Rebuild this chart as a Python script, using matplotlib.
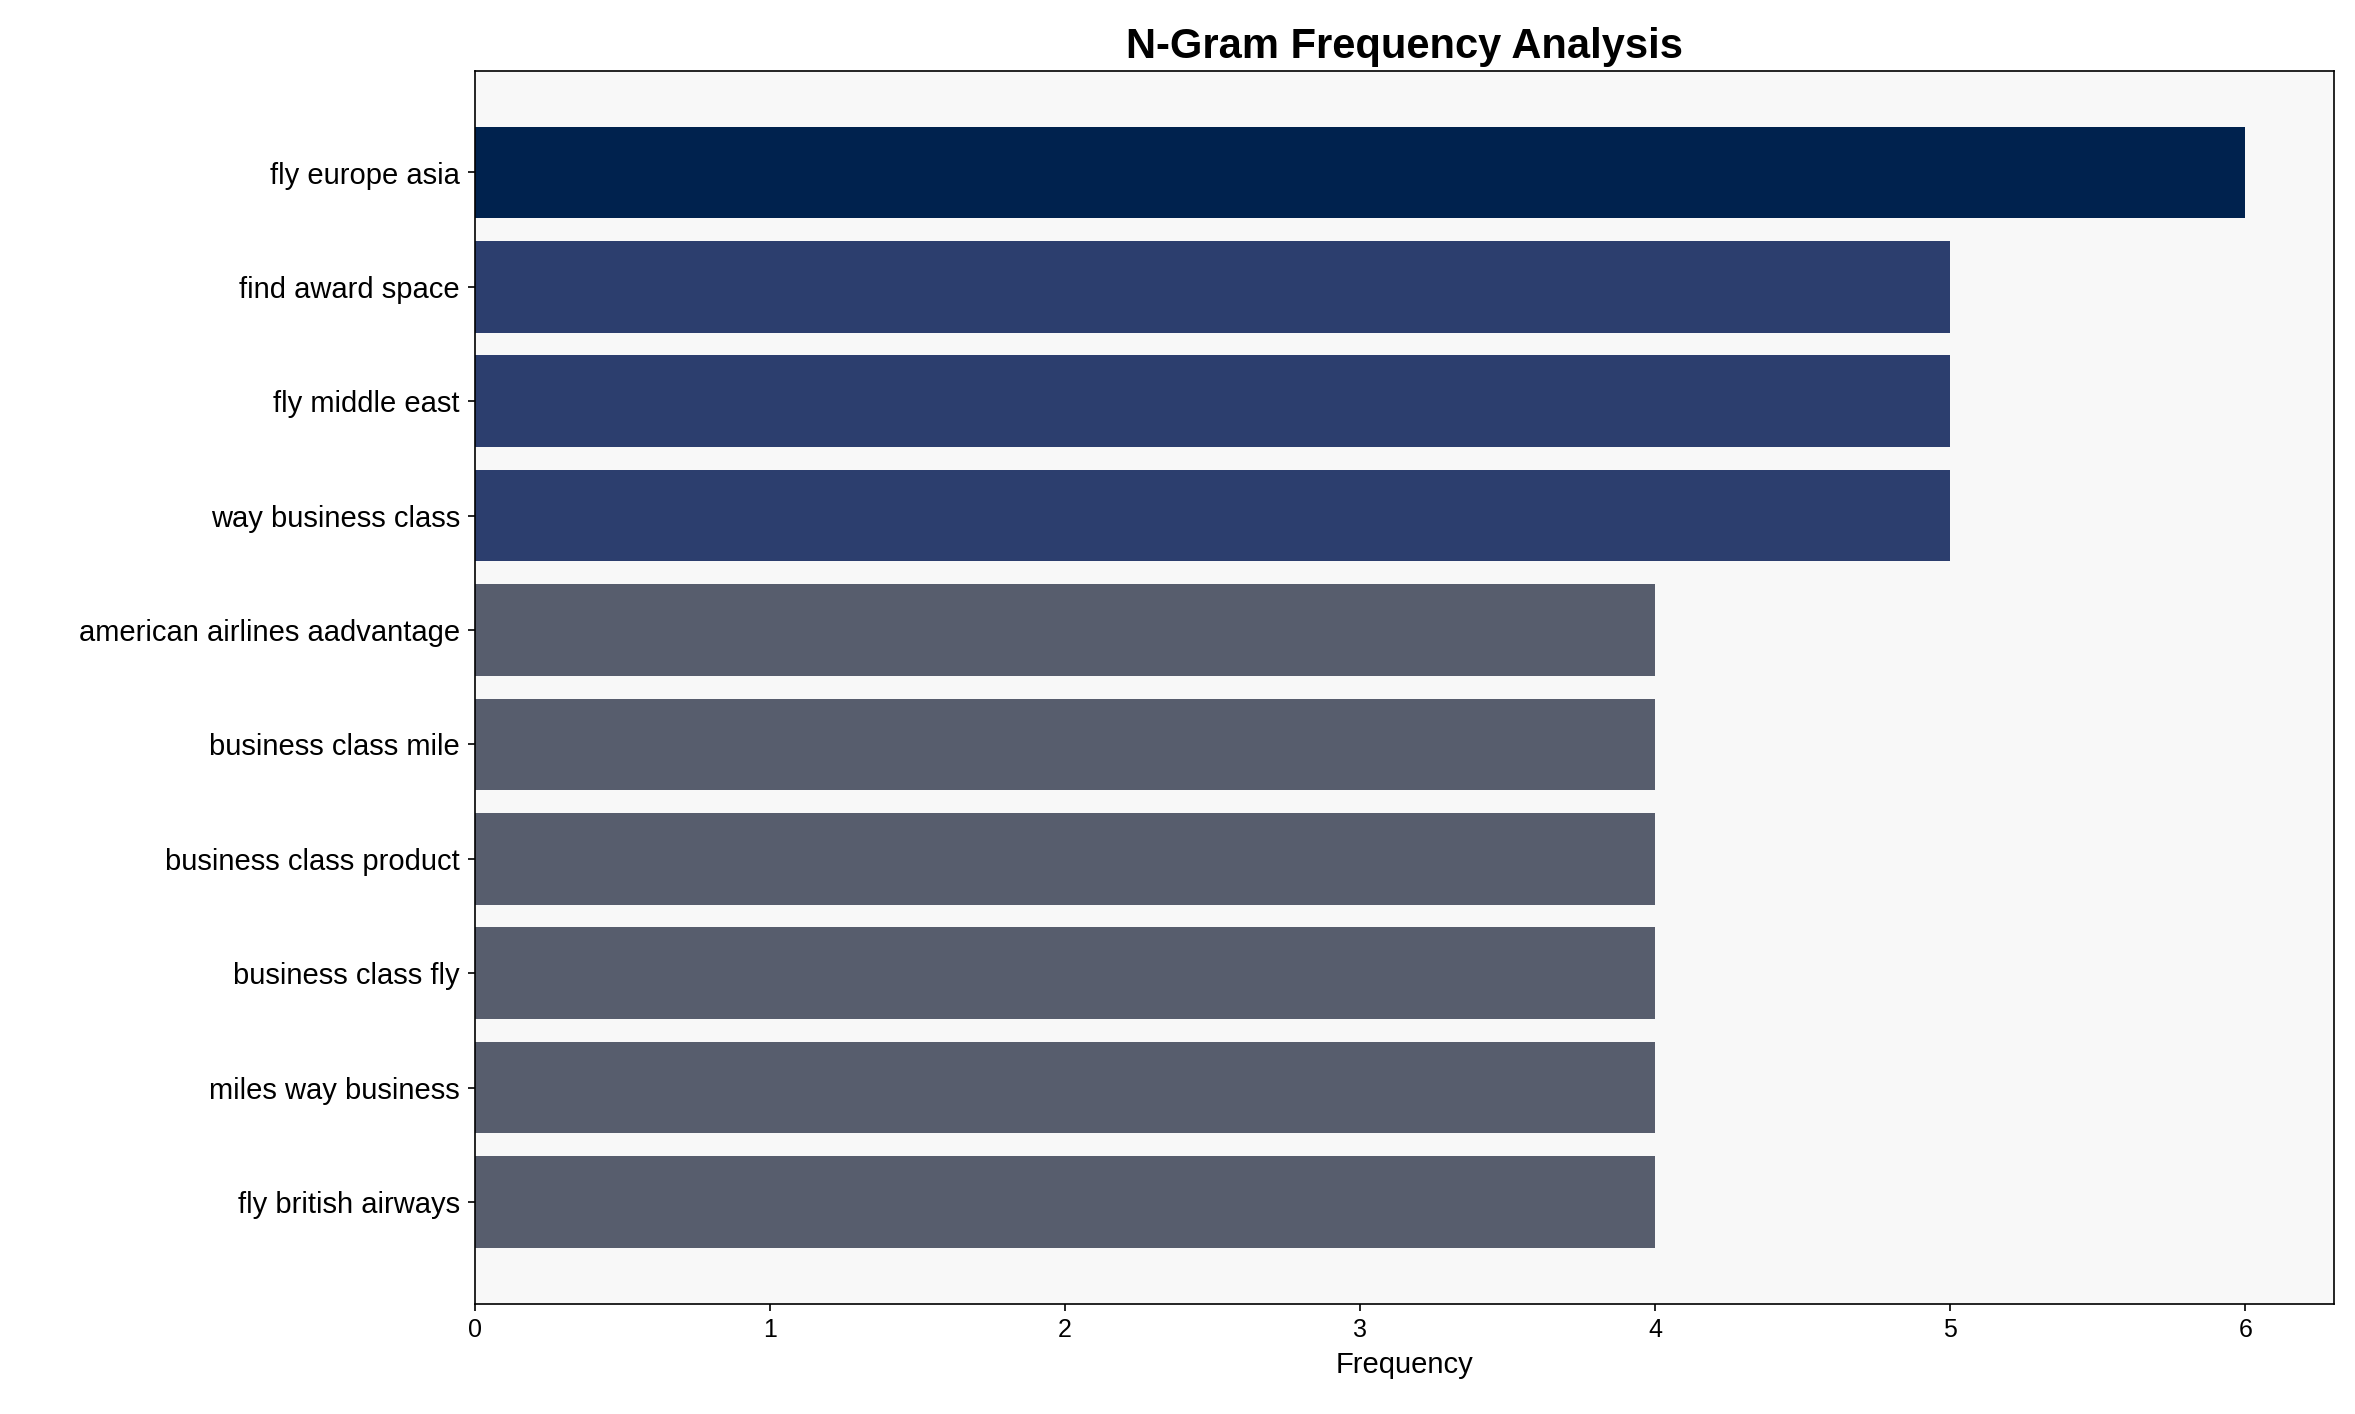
import matplotlib
matplotlib.use("Agg")
import matplotlib.pyplot as plt

plt.rcParams['font.family'] = ['Liberation Sans', 'DejaVu Sans']

ngrams = ["fly europe asia", "find award space", "fly middle east", "way business class",
          "american airlines aadvantage", "business class mile", "business class product",
          "business class fly", "miles way business", "fly british airways"]
freqs = [6, 5, 5, 5, 4, 4, 4, 4, 4, 4]
color_map = {6: "#00224e", 5: "#2c3e6e", 4: "#575d6d"}

fig = plt.figure(figsize=(15.7, 9.427), dpi=150)
ax = fig.add_axes([0.2015, 0.078, 0.7895, 0.872])
ax.set_facecolor("#f8f8f8")
y = list(range(len(ngrams)))
ax.barh(y, freqs, color=[color_map[f] for f in freqs], height=0.8)
ax.set_yticks(y)
ax.set_yticklabels(ngrams, fontsize=14)
ax.invert_yaxis()
ax.set_xlim(0, 6.3)
ax.tick_params(axis='x', labelsize=12)
ax.set_xlabel("Frequency", fontsize=14)
ax.set_title("N-Gram Frequency Analysis", fontsize=20, fontweight='bold')
fig.savefig("out.png")
